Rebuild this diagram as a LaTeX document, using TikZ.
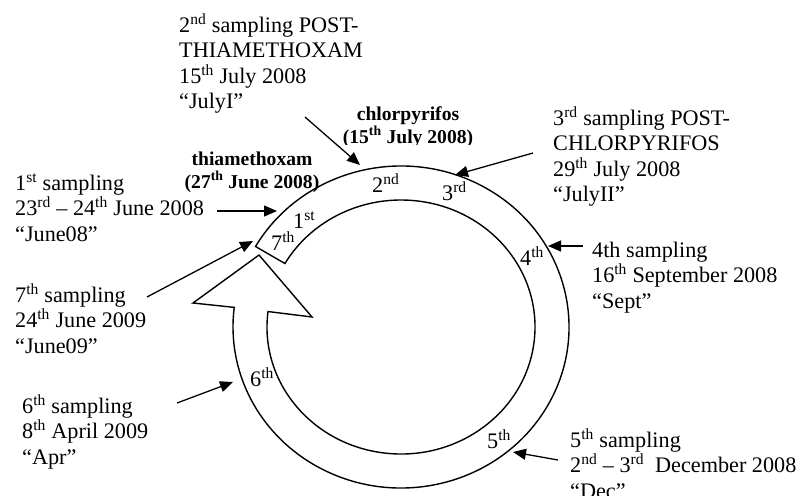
\documentclass[tikz,border=0pt]{standalone}
\usepackage{fontspec}
\setmainfont{Liberation Serif}
\usetikzlibrary{arrows.meta,calc}
\tikzset{
  lbl/.style={anchor=base west, align=left, inner sep=0pt, font=\fontsize{22.2}{25.5}\selectfont},
  ord/.style={anchor=base west, inner sep=0pt, font=\fontsize{22.2}{25.5}\selectfont},
  bld/.style={anchor=base, align=center, inner sep=0pt, font=\fontsize{19.6}{23}\selectfont\bfseries},
  pointer/.style={-{Triangle[length=13pt,width=11pt]}, line width=1.3pt},
  band/.style={draw, line width=1.4pt, fill=white, line join=miter}
}
\newcommand{\sups}[1]{\textsuperscript{#1}}
\begin{document}
\begin{tikzpicture}[x=1pt,y=1pt]
\useasboundingbox (0,0) rectangle (799,-495);
% circular arrow band
\coordinate (ctr) at (401,-327);
\draw[band] ($(ctr)+(150:168 and 161)$)
  arc[start angle=150, end angle=-187, x radius=168, y radius=161]
  -- (193,-303) -- (259,-255) -- (312,-317)
  -- ($(ctr)+(-187:134 and 127)$)
  arc[start angle=-187, end angle=150, x radius=134, y radius=127]
  -- cycle;
% ordinals on the band
\node[ord] (o1) at (293,-228) {1\sups{st}};
\node[ord] (o2) at (372,-192) {2\sups{nd}};
\node[ord] (o3) at (442,-200) {3\sups{rd}};
\node[ord] (o4) at (520,-265) {4\sups{th}};
\node[ord] (o5) at (487,-448) {5\sups{th}};
\node[ord] (o6) at (250,-386) {6\sups{th}};
\node[ord] (o7) at (271,-250) {7\sups{th}};
% sampling texts (anchored at the baseline of the last line)
\node[lbl] (t2) at (179,-108.5) {2\sups{nd} sampling POST-\\THIAMETHOXAM\\15\sups{th} July 2008\\“JulyI”};
\node[lbl] (t1) at (15,-241) {1\sups{st} sampling\\23\sups{rd} – 24\sups{th} June 2008\\“June08”};
\node[lbl] (t3) at (553,-201.5) {3\sups{rd} sampling POST-\\CHLORPYRIFOS\\29\sups{th} July 2008\\“JulyII”};
\node[lbl] (t4) at (592,-308) {4th sampling\\16\sups{th} September 2008\\“Sept”};
\node[lbl] (t7) at (15,-353) {7\sups{th} sampling\\24\sups{th} June 2009\\“June09”};
\node[lbl] (t6) at (22,-464) {6\sups{th} sampling\\8\sups{th} April 2009\\“Apr”};
\node[lbl] (t5) at (570,-498) {5\sups{th} sampling\\2\sups{nd} – 3\sups{rd}\ \ December 2008\\“Dec”};
% treatment labels
\node[bld] (thia) at (252,-188) {thiamethoxam\\(27\sups{th} June 2008)};
\begin{scope}
  \clip (300,-90) rectangle (520,-144);
  \node[bld] (chlo) at (408,-143) {chlorpyrifos\\(15\sups{th} July 2008)};
\end{scope}
% pointer arrows
\coordinate (s1) at (217,-211); \coordinate (e1) at (277,-211);
\coordinate (s2) at (305,-117); \coordinate (e2) at (360,-165);
\coordinate (s3) at (533,-153); \coordinate (e3) at (455,-175);
\coordinate (s4) at (583,-246); \coordinate (e4) at (548,-246);
\coordinate (s5) at (558,-460); \coordinate (e5) at (513,-452);
\coordinate (s6) at (177,-403); \coordinate (e6) at (233,-382);
\coordinate (s7) at (147,-297); \coordinate (e7) at (253,-241);
\foreach \i in {1,...,7} { \draw[pointer] (s\i) -- (e\i); }
\end{tikzpicture}
\end{document}
